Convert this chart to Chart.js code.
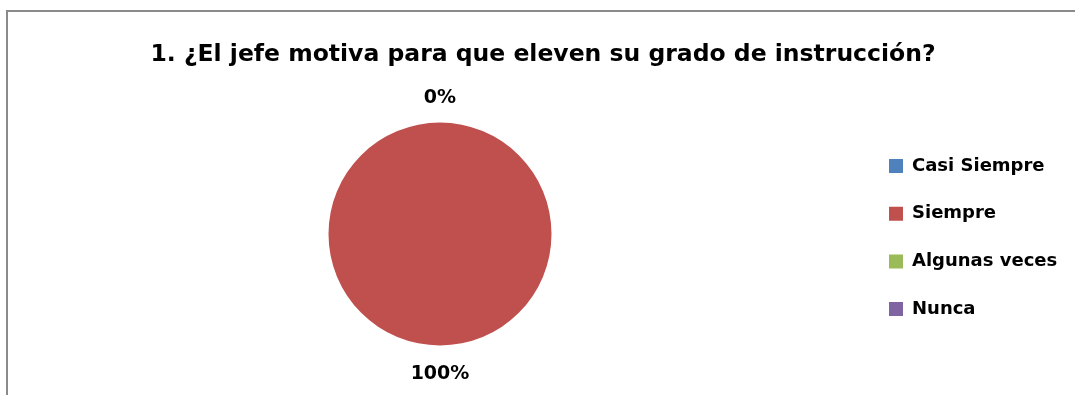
<!DOCTYPE html>
<html>
<head>
<meta charset="utf-8">
<script src="https://cdn.jsdelivr.net/npm/chart.js@4/dist/chart.umd.min.js"></script>
<style>
    body { margin: 0; background: #fff; overflow: hidden; }
    #frame { position: absolute; left: 6px; top: 10px; width: 1100px; height: 400px;
             border-left: 2px solid #8a8a8a; border-top: 2px solid #8a8a8a; }
    #wrap { position: absolute; left: 0; top: 0; width: 1075px; height: 395px; }
</style>
</head>
<body>
<div id="frame"></div>
<div id="wrap"><canvas id="pie" width="1075" height="395"></canvas></div>
<script>
const categories = ['Casi Siempre', 'Siempre', 'Algunas veces', 'Nunca'];
const values = [0, 100, 0, 0];
const colors = ['#4F81BD', '#C0504D', '#9BBB59', '#8064A2'];

// percent labels outside each slice (same spot only drawn once)
const outsideLabels = {
    id: 'outsideLabels',
    afterDatasetsDraw(chart) {
        const ctx = chart.ctx;
        const meta = chart.getDatasetMeta(0);
        const total = values.reduce((a, b) => a + b, 0);
        const seen = {};
        ctx.save();
        ctx.font = 'bold 19px "DejaVu Sans"';
        ctx.fillStyle = '#000';
        ctx.textAlign = 'center';
        ctx.textBaseline = 'middle';
        meta.data.forEach((arc, i) => {
            const p = arc.getProps(['x', 'y', 'startAngle', 'endAngle', 'outerRadius'], true);
            const mid = (p.startAngle + p.endAngle) / 2;
            const d = p.outerRadius + 24 + 5 * Math.max(0, Math.sin(mid));
            const x = p.x + Math.cos(mid) * d, y = p.y + Math.sin(mid) * d;
            const pct = Math.round(values[i] / total * 100) + '%';
            const key = Math.round(x) + ',' + Math.round(y) + pct;
            if (seen[key]) return;
            seen[key] = true;
            ctx.fillText(pct, x, y);
        });
        ctx.restore();
    }
};

document.addEventListener('DOMContentLoaded', () => {
    new Chart('pie', {
        type: 'pie',
        data: {
            labels: categories,
            datasets: [{
                data: values,
                backgroundColor: colors,
                borderWidth: 0,
                radius: 111.5
            }]
        },
        options: {
            responsive: false,
            animation: false,
            layout: { padding: { left: 20.7, right: 9.7, top: 0, bottom: 47.2 } },
            plugins: {
                title: {
                    display: true,
                    text: '1. ¿El jefe motiva para que eleven su grado de instrucción?',
                    color: '#000',
                    font: { family: 'DejaVu Sans', size: 23.5, weight: 'bold' },
                    padding: { top: 40.8, bottom: 51.2 }
                },
                legend: {
                    position: 'right',
                    align: 'end',
                    maxWidth: 206,
                    labels: {
                        color: '#000',
                        boxWidth: 14,
                        boxHeight: 14,
                        padding: 29.7,
                        font: { family: 'DejaVu Sans', size: 18, weight: 'bold' }
                    }
                },
                tooltip: { enabled: false }
            }
        },
        plugins: [outsideLabels]
    });
});
</script>
</body>
</html>
